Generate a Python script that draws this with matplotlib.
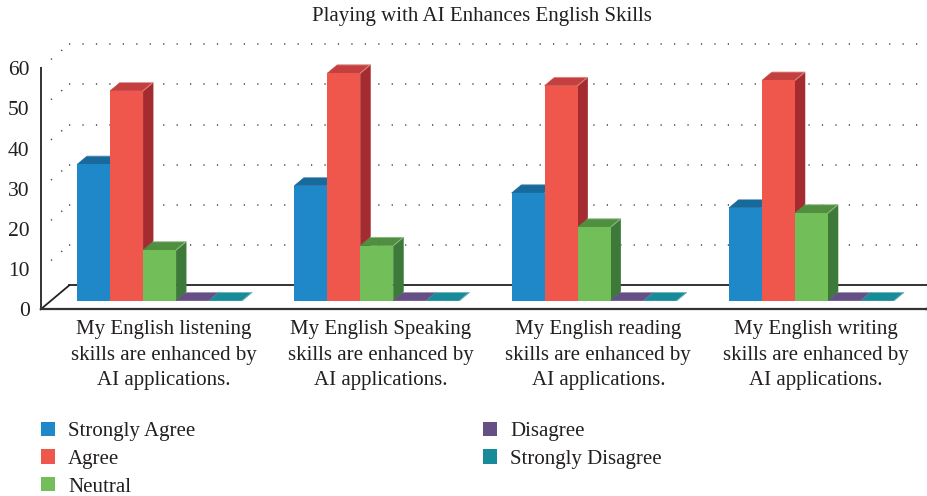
import matplotlib
matplotlib.use("Agg")
import matplotlib.pyplot as plt
from matplotlib.patches import Polygon, Patch

# data
categories = [
    "My English listening\nskills are enhanced by\nAI applications.",
    "My English Speaking\nskills are enhanced by\nAI applications.",
    "My English reading\nskills are enhanced by\nAI applications.",
    "My English writing\nskills are enhanced by\nAI applications.",
]
series_names = ["Strongly Agree", "Agree", "Neutral", "Disagree", "Strongly Disagree"]
strongly_agree = [33.9, 28.6, 26.8, 23.1]
agree = [52.2, 56.6, 53.5, 54.8]
neutral = [12.6, 13.7, 18.3, 21.8]
disagree = [0, 0, 0, 0]
strongly_disagree = [0, 0, 0, 0]
y_ticks = [0, 10, 20, 30, 40, 50, 60]
title = "Playing with AI Enhances English Skills"

series = [strongly_agree, agree, neutral, disagree, strongly_disagree]
front_colors = ["#1f88c8", "#ef564c", "#72bf5a", "#654f85", "#178b97"]
top_colors = ["#186a9c", "#c4403f", "#4f8f3f", "#654f85", "#178b97"]
side_colors = ["#15608e", "#a42b30", "#3d7a3a", "#4e3d68", "#10707a"]

plt.rcParams['font.family'] = ['Liberation Serif', 'DejaVu Serif']
text_color = "#231f20"

W, H = 927, 496
fig = plt.figure(figsize=(W / 100, H / 100), dpi=100)
cat_px = 217.3      # pixels per category
val_px = 4.02       # pixels per value unit
x0_px, y0_px = 40.7, 309.3
right_px = 926
ax = fig.add_axes([x0_px / W, (H - y0_px) / H, (right_px - x0_px) / W, 60 * val_px / H])
xmax = (right_px - x0_px) / cat_px
ax.set_xlim(0, xmax)
ax.set_ylim(0, 60)

# 3d depth of the floor, in data units
dx = 28.6 / cat_px
dy = 24 / val_px

# side and back wall grid
for v in y_ticks[1:]:
    ax.plot([0, dx], [v, v + dy], color="#444444", lw=1.1, ls=(0, (0.8, 8)), clip_on=False, zorder=1)
    ax.plot([dx, xmax + dx], [v + dy, v + dy], color="#444444", lw=1.1, ls=(0, (0.8, 8)),
            clip_on=False, zorder=1)

# floor
ax.plot([dx, xmax + dx], [dy, dy], color="#222222", lw=1.3, clip_on=False, zorder=1)
ax.plot([0, dx], [0, dy], color="#222222", lw=1.3, clip_on=False, zorder=1)
ax.plot([0, xmax], [0, 0], color="#333333", lw=1.6, clip_on=False, zorder=1)
ax.plot([xmax, xmax + 0.15 * dx], [0, dy * 0.15], color="#333333", lw=1.3, clip_on=False, zorder=1)

# bars
bar_w = 0.152
f = 0.358   # depth of the bar front face
d = 0.35    # bar depth
for i in range(len(categories)):
    start = i + 0.5 - 2.5 * bar_w
    for j, vals in enumerate(series):
        v = vals[i]
        xl = start + j * bar_w + f * dx
        xr = xl + bar_w
        yb = f * dy
        yt = yb + v
        side = Polygon([(xr, yb), (xr + d * dx, yb + d * dy), (xr + d * dx, yt + d * dy), (xr, yt)],
                       closed=True, fc=side_colors[j], ec=side_colors[j], lw=0.4, clip_on=False, zorder=3)
        top = Polygon([(xl, yt), (xr, yt), (xr + d * dx, yt + d * dy), (xl + d * dx, yt + d * dy)],
                      closed=True, fc=top_colors[j], ec=top_colors[j], lw=0.4, clip_on=False, zorder=3)
        ax.add_patch(side)
        ax.add_patch(top)
        ax.plot([xl + d * dx, xr + d * dx, xr], [yt + d * dy, yt + d * dy, yt],
                color="#ffffff", alpha=0.35, lw=0.8, clip_on=False, zorder=3)
        if v > 0:
            ax.bar(xl, v, width=bar_w, bottom=yb, align="edge", color=front_colors[j],
                   lw=0, clip_on=False, zorder=3)

# axes
for s in ["top", "right", "bottom"]:
    ax.spines[s].set_visible(False)
ax.spines["left"].set_color("#333333")
ax.spines["left"].set_linewidth(1.4)
ax.set_xticks([])
ax.set_yticks(y_ticks)
ax.tick_params(axis="y", length=0, pad=8, labelsize=15.5, labelcolor=text_color)

for i, lab in enumerate(categories):
    ax.text(i + 0.5 + dx / 2, -11.4, lab, ha="center", va="center", fontsize=15,
            color=text_color, linespacing=1.45)

fig.text(482 / W, 1 - 16 / H, title, ha="center", va="center", fontsize=15, color=text_color)

handles = [Patch(fc=c, ec="none") for c in front_colors]
kw = dict(frameon=False, loc="upper left", fontsize=15, handlelength=0.68, handleheight=0.68,
          handletextpad=0.63, labelspacing=0.4, borderpad=0, borderaxespad=0,
          labelcolor=text_color)
fig.legend(handles[:3], series_names[:3], bbox_to_anchor=(41 / W, 1 - 421.5 / H), **kw)
fig.legend(handles[3:], series_names[3:], bbox_to_anchor=(482.7 / W, 1 - 421.5 / H), **kw)

fig.savefig("out.png", dpi=100)
